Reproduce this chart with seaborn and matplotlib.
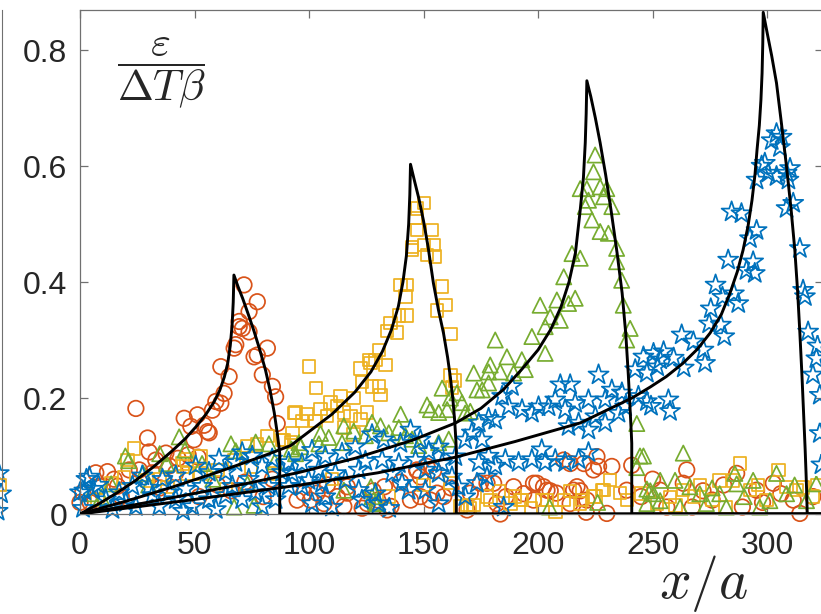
import numpy as np
import pandas as pd
import seaborn as sns
import matplotlib.pyplot as plt

# measured strain, four crack lengths (circles, squares, triangles, stars)
circ_x = [0, 1.2, 4.4, 6.9, 8.4, 12, 14.9, 16.4, 18, 21.5, 24.4, 25.9, 29.5, 30.2, 31.6, 33.1, 35, 37.5, 38.9,
          41.8, 42.8, 45.5, 47.2, 48.4, 49.8, 51.3, 51.6, 52, 54.2, 55.7, 56.4, 57.8, 59.3, 60, 61.5, 61.5, 62.9,
          65.1, 66, 67.3, 68, 69.5, 69.5, 70.9, 71.6, 72, 73.8, 73.8, 76, 77.4, 77.4, 79.6, 80, 81.8, 84, 84,
          85.4, 86.1,
          94.8, 97.7, 100.6, 103.5, 106.5, 108, 112.3, 115.2, 116.7, 116.7, 123.2, 125.4, 128, 130, 132.9, 134.1,
          135.8, 140, 144.3, 147, 147.2, 148.6, 148.6, 151.5, 153, 154.4, 155.9, 158.8, 162, 169, 170.4, 174.8,
          177.7, 180.6, 182, 183.5, 186, 189.3, 193.7, 198, 198, 199.5, 202.4, 203.9, 205.3, 208, 211.2, 214,
          214, 215.5, 217, 218.4, 220, 221, 221.3, 224.2, 225.7, 226.4, 230, 232.2, 238.7, 240.9, 245, 250,
          253.3, 256.2, 263.4, 264.9, 267.3, 272, 276, 281, 286.7, 289.2, 295.4, 298, 302.7, 306, 311.4, 314.3,
          320]
circ_y = [0.02, 0.037, 0.02, 0.071, 0.048, 0.073, 0.06, 0.048, 0.03, 0.076, 0.182, 0.076, 0.131, 0.107, 0.071,
          0.093, 0.045, 0.105, 0.083, 0.071, 0.096, 0.165, 0.102, 0.151, 0.128, 0.171, 0.098, 0.03, 0.153, 0.142,
          0.14, 0.179, 0.194, 0.05, 0.191, 0.254, 0.208, 0.237, 0.04, 0.286, 0.292, 0.332, 0.323, 0.32, 0.395,
          0.055, 0.349, 0.314, 0.271, 0.366, 0.274, 0.24, 0.03, 0.286, 0.22, 0.06, 0.202, 0.156,
          0.024, 0.036, 0.024, 0.036, 0.018, 0.05, 0.03, 0.013, 0.036, 0.047, 0.01, 0.018, 0.04, 0.024, 0.047,
          0.007, 0.013, 0.055, 0.024, 0.075, 0.076, 0.064, 0.03, 0.082, 0.024, 0.075, 0.036, 0.03, 0.045, 0.007,
          0.036, 0.053, 0.053, 0.053, 0.018, 0.0, 0.03, 0.047, 0.035, 0.053, 0.024, 0.053, 0.047, 0.041, 0.04,
          0.036, 0.093, 0.087, 0.018, 0.041, 0.047, 0.04, 0.087, 0.003, 0.024, 0.076, 0.099, 0.082, 0.001, 0.082,
          0.041, 0.084, 0.03, 0.06, 0.041, 0.012, 0.053, 0.076, 0.012, 0.04, 0.024, 0.05, 0.07, 0.012, 0.041,
          0.02, 0.053, 0.035, 0.024, 0.001, 0.03]

sq_x = [7.7, 13.5, 19.2, 20.8, 23.7, 29.5, 34.8, 38.2, 44.7, 45, 46.5, 46.8, 52.7, 52.7, 60, 63.8, 67.3, 73.1,
        74.6, 77.4, 81.8, 84.8, 88.3, 88.9, 92.2, 92.7, 93.4, 94.1, 97, 99.2, 100, 102.8, 103, 105, 107.9, 109.3,
        110, 112.3, 113.7, 115.2, 115.2, 118.1, 119.5, 119.5, 122.5, 122.5, 123.2, 125.4, 126.1, 126.8, 127.5,
        129, 130.5, 130.5, 131.2, 133.4, 134.1, 135, 135.6, 138.5, 139.2, 139.9, 142.1, 142.8, 142.8, 145, 145,
        146.5, 147.2, 147.2, 150, 150.1, 150.1, 151.5, 153.7, 154.4, 155.1, 155.9, 158.1, 159.5, 161.7, 161.7,
        162.4, 163.8, 161.7,
        166.1, 169, 170.4, 171.9, 177.7, 179.3, 183, 188, 190, 192.3, 193, 197, 201.8, 203.9, 207.6, 211.2, 214,
        218.4, 219.2, 224.2, 225, 228, 228.6, 231.5, 235.8, 238.7, 245, 251.8, 257.5, 260, 263.4, 268, 270.6,
        276.1, 279.3, 281.9, 285.2, 288.1, 292.5, 296, 299.7, 304.9, 308.5, 312.8, 315.7, 320, 322]
sq_y = [0.024, 0.053, 0.063, 0.093, 0.113, 0.058, 0.06, 0.047, 0.087, 0.082, 0.094, 0.07, 0.099, 0.07, 0.076,
        0.043, 0.093, 0.117, 0.082, 0.12, 0.134, 0.07, 0.128, 0.128, 0.124, 0.14, 0.174, 0.175, 0.16, 0.172, 0.254,
        0.16, 0.217, 0.181, 0.169, 0.192, 0.06, 0.186, 0.203, 0.175, 0.149, 0.169, 0.2, 0.137, 0.251, 0.163, 0.228,
        0.175, 0.266, 0.26, 0.22, 0.266, 0.283, 0.22, 0.205, 0.257, 0.316, 0.03, 0.329, 0.313, 0.342, 0.395, 0.375,
        0.395, 0.342, 0.455, 0.46, 0.51, 0.527, 0.49, 0.05, 0.536, 0.464, 0.447, 0.49, 0.464, 0.444, 0.351, 0.392,
        0.36, 0.31, 0.239, 0.218, 0.23, 0.053,
        0.013, 0.016, 0.01, 0.016, 0.03, 0.024, 0.04, 0.018, 0.03, 0.024, 0.024, 0.01, 0.024, 0.024, 0.003, 0.024,
        0.04, 0.018, 0.024, 0.03, 0.03, 0.041, 0.041, 0.059, 0.036, 0.024, 0.035, 0.018, 0.029, 0.015, 0.041,
        0.03, 0.05, 0.024, 0.058, 0.012, 0.058, 0.087, 0.041, 0.05, 0.024, 0.076, 0.047, 0.041, 0.046, 0.03, 0.05]

tri_x = [4.9, 9.3, 13.6, 19.8, 21.2, 27.6, 30, 34.8, 37.8, 43.3, 45.8, 53.3, 58, 65.9, 67.3, 68, 73.1, 76, 76.7,
         82.5, 85, 92.3, 94.1, 95.6,
         96.3, 104.3, 105, 108.6, 114.4, 115.2, 115.2, 119.5, 124.6, 127, 127.5, 127.5, 129, 129.8, 131.2, 134.8,
         139.2, 140, 142.1, 145, 147.9, 151.5, 153, 156.6, 156.6, 158.1, 160.3, 161, 161.7, 164.6, 166.8, 168.2,
         170.4,
         171.9, 173.3, 175.6, 178.4, 178.4, 179.1, 181.3, 183.5, 186.4, 189.3, 192.9, 194.4, 197.3, 200.9, 203.1,
         203.1, 205, 205.3, 208.2, 209.7, 211.2, 213.3, 214.8, 216.2, 218.4, 218.4, 220.6, 221.3, 222, 223.5,
         224.2, 224.9, 226, 227.1, 227.1, 228.6, 230, 230.7, 232.2, 234.3, 234.3, 236.5, 237.2, 238.7, 240.2,
         243.1, 243.1, 244.5, 246, 247.5, 247.5, 249, 250.4, 253.3, 253.3, 259.8, 262, 263.4, 266.3, 270.6, 273.5,
         276, 279.3, 282.2, 285.9, 286.7, 290, 293.9, 296.8, 301.2, 304.1, 308.5, 312, 317.2, 321.5]
tri_y = [0.035, 0.029, 0.052, 0.1, 0.092, 0.07, 0.05, 0.104, 0.087, 0.133, 0.11, 0.087, 0.06, 0.121, 0.012,
         0.109, 0.052, 0.015, 0.124, 0.121, 0.09, 0.112, 0.104, 0.123,
         0.116, 0.121, 0.139, 0.132, 0.123, 0.152, 0.041, 0.143, 0.135, 0.047, 0.158, 0.03, 0.02, 0.018, 0.152,
         0.14, 0.149, 0.172, 0.135, 0.129, 0.118, 0.188, 0.18, 0.175, 0.123, 0.217, 0.18, 0.129, 0.2, 0.209,
         0.192, 0.174, 0.177,
         0.243, 0.214, 0.214, 0.245, 0.226, 0.257, 0.3, 0.245, 0.271, 0.243, 0.266, 0.249, 0.306, 0.36, 0.323,
         0.277, 0.012, 0.34, 0.369, 0.334, 0.409, 0.363, 0.449, 0.372, 0.441, 0.561, 0.53, 0.561, 0.541, 0.507,
         0.59, 0.619, 0.02, 0.564, 0.487, 0.547, 0.561, 0.484, 0.53, 0.458, 0.435, 0.403, 0.36, 0.3, 0.32,
         0.156, 0.08, 0.1, 0.1, 0.043, 0.018, 0.04, 0.035, 0.058, 0.023, 0.058, 0.012, 0.105, 0.047, 0.035, 0.018,
         0.045, 0.035, 0.012, 0.07, 0.052, 0.03, 0.058, 0.012, 0.023, 0.07, 0.035, 0.05, 0.023, 0.052]

star_x = [0, 1.3, 1.9, 2.8, 4.1, 5.7, 8, 11.3, 14.2, 17.1, 20, 22.9, 24.4, 27.2, 30, 31.6, 34.6, 36, 38.9, 41.8,
          41.8, 45, 46.2, 49.1, 50.5, 53.4, 56.3, 56.3, 59.3, 60.7, 63.6, 63.6, 66.5, 67.9, 70.8, 70.8, 73.7, 75.2,
          76.6, 79.5, 79.5, 82.4, 83.9, 85.4, 88.2, 91.1, 91.1,
          92.6, 96.9, 96.9, 99.8, 101.3, 101.3, 104.2, 105.7, 107.1, 107.1, 110, 111.5, 114.4, 115.9, 120.2, 121.7,
          121.7, 123.1, 124.6, 127.5, 129, 130.4, 131.9, 132.6, 135, 136.3, 139.2, 139.9, 140.6, 143.5, 144.3,
          146.5, 148.6, 150.8, 150.8, 152.3, 156.6, 156.6, 156.6, 158.1, 162.4, 163.9, 165.3, 168.2, 168.2, 171.1,
          173.3, 175.5, 177.7,
          174.1, 174.1, 178.4, 178.4, 181.3, 181.3, 184.3, 185, 185.7, 187.2, 188.6, 191.5, 193, 197.3, 197.3,
          200.2, 201.6, 203.1, 204.6, 207.5, 207.5, 209.7, 211.8, 211.8, 213.3, 214, 216.2, 217.7, 217.7, 222, 222,
          222, 225, 226.4, 229.3, 229.3, 232.2, 235.1, 236.6, 238, 242.4, 243.8, 246, 247.5, 247.5, 249.3, 250.4,
          253.3,
          252, 254.8, 256.9, 257.6, 259.2, 262.7, 263.6, 267.8, 272.2, 272.9, 274.7, 275.4, 277.5, 279.8, 280.5,
          281.3, 283, 284.5, 285.5, 287.4, 288.8, 291, 292.5, 293.9, 294.6, 295.4, 295.4, 297.6, 299, 300.5, 302,
          304.1, 304.1, 305.6, 306.3, 308.5, 308.5, 309.3, 310, 311.4, 314.3, 315.7, 316.5, 317.9, 320, 321.5, 322,
          323, 323, 323.7]
star_y = [0.037, 0.01, 0.04, 0.06, 0.064, 0.043, 0.05, 0.025, 0.008, 0.037, 0.02, 0.048, 0.013, 0.066, 0.045,
          0.032, 0.013, 0.06, 0.037, 0.025, 0.066, 0.005, 0.043, 0.013, 0.083, 0.048, 0.072, 0.025, 0.008, 0.095,
          0.072, 0.032, 0.048, 0.089, 0.106, 0.025, 0.06, 0.1, 0.037, 0.083, 0.013, 0.048, 0.095, 0.025, 0.072,
          0.089, 0.048,
          0.07, 0.087, 0.047, 0.058, 0.11, 0.018, 0.076, 0.053, 0.099, 0.03, 0.012, 0.07, 0.105, 0.058, 0.116,
          0.076, 0.041, 0.024, 0.091, 0.137, 0.035, 0.018, 0.093, 0.128, 0.01, 0.07, 0.087, 0.122, 0.053, 0.041,
          0.145, 0.093, 0.128, 0.076, 0.041, 0.108, 0.116, 0.07, 0.018, 0.087, 0.064, 0.099, 0.047, 0.128, 0.03,
          0.14, 0.053, 0.128, 0.064,
          0.157, 0.089, 0.165, 0.1, 0.162, 0.083, 0.203, 0.012, 0.094, 0.185, 0.22, 0.089, 0.18, 0.174, 0.094,
          0.185, 0.111, 0.089, 0.185, 0.197, 0.094, 0.223, 0.18, 0.089, 0.151, 0.223, 0.191, 0.157, 0.094, 0.197,
          0.145, 0.106, 0.168, 0.24, 0.197, 0.157, 0.214, 0.174, 0.209, 0.185, 0.249, 0.203, 0.271, 0.243, 0.194,
          0.186, 0.277, 0.266,
          0.254, 0.28, 0.197, 0.177, 0.269, 0.309, 0.252, 0.297, 0.283, 0.26, 0.328, 0.354, 0.395, 0.326, 0.374,
          0.306, 0.438, 0.521, 0.38, 0.363, 0.518, 0.42, 0.475, 0.435, 0.415, 0.489, 0.576, 0.6, 0.605, 0.588,
          0.644, 0.656, 0.582, 0.632, 0.65, 0.588, 0.527, 0.576, 0.596, 0.536, 0.458, 0.386, 0.375, 0.314, 0.24,
          0.268, 0.29, 0.205, 0.139, 0.085]

# model curves
c1_x = [0, 8, 16, 24, 32, 40, 46, 51, 55, 58.5, 61, 63, 64.5, 65.6, 66.4, 66.9, 67.2, 69, 71, 73.5, 76, 78.5,
        81, 83, 84.8, 86.1, 86.9, 87.2, 87.2, 324.4]
c1_y = [0, 0.017, 0.036, 0.057, 0.081, 0.108, 0.130, 0.152, 0.172, 0.193, 0.213, 0.236, 0.260, 0.290, 0.325,
        0.365, 0.412, 0.392, 0.372, 0.344, 0.315, 0.283, 0.248, 0.213, 0.175, 0.140, 0.115, 0.105, 0, 0]
c2_x = [0, 20, 40, 60, 80, 92, 100, 110, 120, 127, 132, 136, 139, 141, 142.5, 143.5, 144, 144.3, 146, 148, 150,
        152, 154.3, 156.5, 158.7, 160.5, 161.7, 162.8, 163.6, 164.1, 164.3, 164.3, 324.4]
c2_y = [0, 0.022, 0.046, 0.072, 0.100, 0.118, 0.142, 0.172, 0.210, 0.245, 0.280, 0.318, 0.358, 0.400, 0.445,
        0.500, 0.550, 0.603, 0.575, 0.543, 0.505, 0.460, 0.398, 0.352, 0.312, 0.270, 0.236, 0.198, 0.160, 0.128,
        0.11, 0, 0]
c3_x = [0, 24, 48, 72, 96, 120, 145, 164, 175, 185, 193, 200, 205.5, 210, 213.5, 216.3, 218.4, 219.8, 220.6, 221,
        221.3, 223, 225, 227.1, 229.5, 232, 234.5, 236.7, 238.3, 239.4, 240.2, 240.7, 240.9, 240.9, 324.4]
c3_y = [0, 0.016, 0.034, 0.052, 0.072, 0.096, 0.127, 0.157, 0.182, 0.215, 0.250, 0.283, 0.318, 0.357, 0.400,
        0.450, 0.524, 0.58, 0.64, 0.69, 0.747, 0.72, 0.683, 0.64, 0.585, 0.52, 0.45, 0.381, 0.31, 0.24, 0.179,
        0.14, 0.122, 0, 0]
c4_x = [0, 48, 96, 130, 164, 190, 218.4, 241, 249, 256, 263.3, 269.5, 275.1, 280, 283.8, 287, 289.5, 291.7, 293.4,
        294.7, 295.6, 296.6, 297.3, 297.8, 298.1, 298.3, 300, 302, 304.1, 306.3, 308.5, 310.4, 312.1, 313.3, 314.3,
        315.2, 316, 316.6, 317, 317.3, 317.5, 324.4]
c4_y = [0, 0.024, 0.050, 0.071, 0.098, 0.125, 0.157, 0.200, 0.219, 0.237, 0.260, 0.284, 0.312, 0.344, 0.381,
        0.418, 0.455, 0.497, 0.541, 0.585, 0.628, 0.670, 0.714, 0.76, 0.81, 0.865, 0.83, 0.79, 0.743, 0.672, 0.598,
        0.528, 0.455, 0.385, 0.312, 0.240, 0.167, 0.112, 0.07, 0.035, 0, 0]

# neighbouring panel: a few markers at its right edge
prev_x = [323, 324, 322.5, 323.5]
prev_y = [0.07, 0.035, 0.005, 0.05]

sns.set_style('ticks')
plt.rcParams['font.family'] = ['Liberation Sans', 'DejaVu Sans']
plt.rcParams['mathtext.fontset'] = 'cm'

fig = plt.figure(figsize=(8.21, 6.14), dpi=100)
ax = fig.add_axes([80 / 821, 100 / 614, 743 / 821, 504 / 614])

series = [
    (circ_x, circ_y, 'o', '#D95319', 125),
    (sq_x, sq_y, 's', '#EDB120', 80),
    (tri_x, tri_y, '^', '#77AC30', 120),
    (star_x, star_y, '*', '#0072BD', 230),
]
for xs, ys, m, c, s in series:
    df = pd.DataFrame({'x': xs, 'y': ys})
    sns.scatterplot(data=df, x='x', y='y', marker=m, s=s, color=c, facecolor='none',
                    edgecolor=c, linewidth=1.25, ax=ax, clip_on=False, zorder=2)

for cx, cy in [(c1_x, c1_y), (c2_x, c2_y), (c3_x, c3_y), (c4_x, c4_y)]:
    ax.plot(cx, cy, color='black', lw=2.1, zorder=3)

ax.set_xlim(0, 324.4)
ax.set_ylim(0, 0.869)
ax.set_xticks([0, 50, 100, 150, 200, 250, 300])
ax.set_yticks([0, 0.2, 0.4, 0.6, 0.8])
ax.set_yticklabels(['0', '0.2', '0.4', '0.6', '0.8'])
ax.set_xlabel('')
ax.set_ylabel('')
for sp in ax.spines.values():
    sp.set_visible(True)
    sp.set_color('#707070')
    sp.set_linewidth(0.9)
ax.tick_params(direction='in', length=6, width=0.9, color='#707070', top=True, right=True,
               labelsize=23, labelcolor='#262626')
ax.tick_params(axis='x', pad=12)
ax.tick_params(axis='y', pad=9)

ax.text(0.109, 0.876, r'$\dfrac{\varepsilon}{\Delta T\beta}$', transform=ax.transAxes,
        ha='center', va='center', fontsize=31, color='#262626')
ax.text(0.84, -0.137, r'$x/a$', transform=ax.transAxes, ha='center', va='center',
        fontsize=40, color='#262626', clip_on=False)

# edge of the neighbouring panel
ax0 = fig.add_axes([(2 - 743) / 821, 100 / 614, 743 / 821, 504 / 614])
ax0.set_xlim(0, 324.4)
ax0.set_ylim(0, 0.869)
sns.scatterplot(x=prev_x[:3], y=prev_y[:3], marker='*', s=230, color='#0072BD', facecolor='none',
                edgecolor='#0072BD', linewidth=1.25, ax=ax0, clip_on=False)
sns.scatterplot(x=prev_x[3:], y=prev_y[3:], marker='s', s=80, color='#EDB120', facecolor='none',
                edgecolor='#EDB120', linewidth=1.25, ax=ax0, clip_on=False)
ax0.set_xticks([])
ax0.set_yticks([])
for name, sp in ax0.spines.items():
    sp.set_visible(name == 'right')
    sp.set_color('#707070')
ax0.patch.set_visible(False)

fig.savefig('out.png', dpi=100)
